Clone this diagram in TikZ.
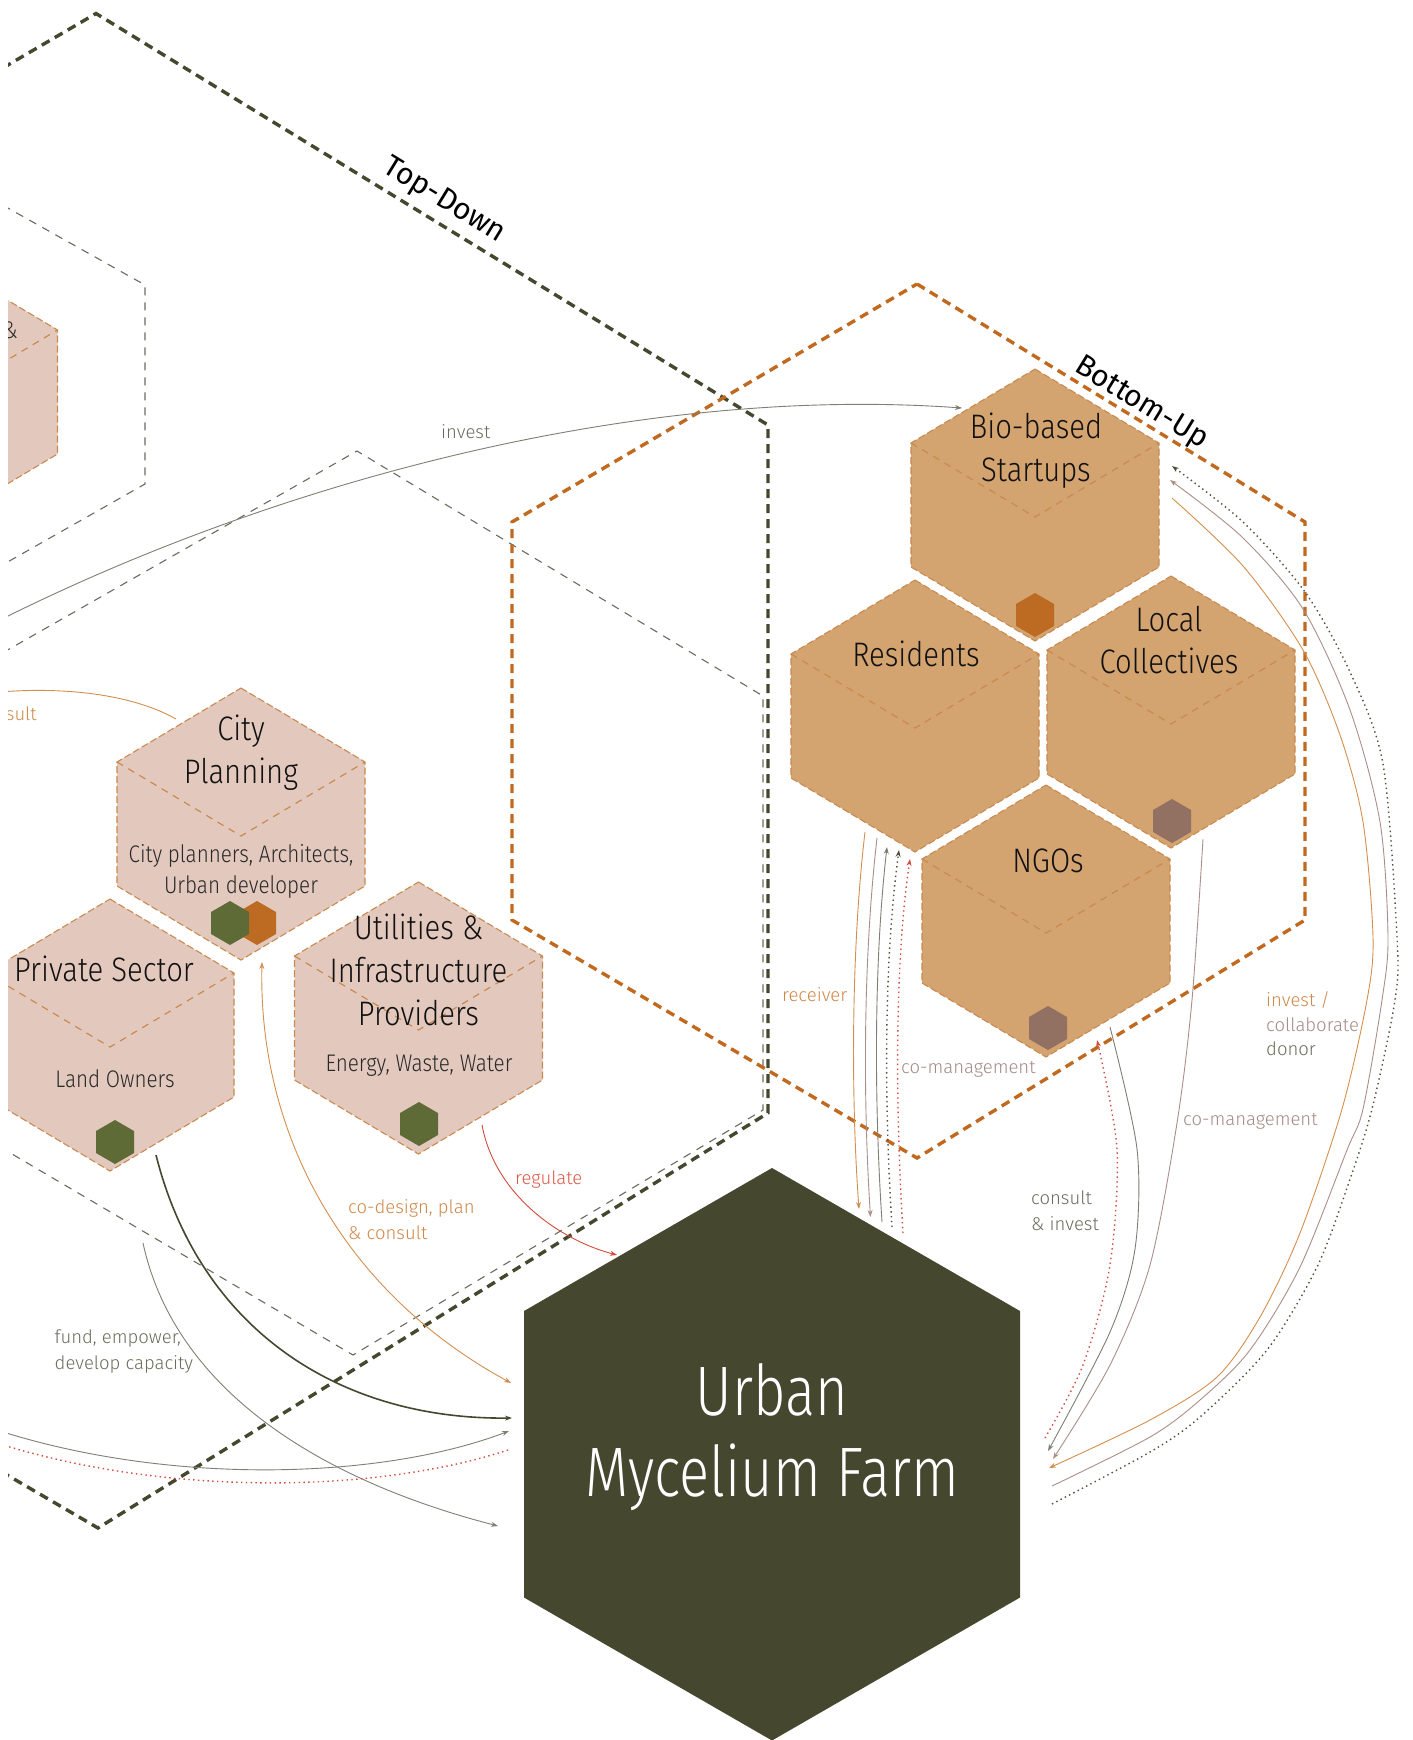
\documentclass[tikz,border=0pt]{standalone}
\usepackage{fontspec}
\setmainfont{Fira Sans Light}
\newfontfamily\sidef{Fira Sans}
\newfontfamily\condf{Fira Sans Light}[FakeStretch=0.86]
\newfontfamily\farmf{Fira Sans Light}[FakeStretch=0.80]
\usetikzlibrary{arrows.meta}

\definecolor{cOlive}{HTML}{45472F}
\definecolor{cOrg}{HTML}{C0691F}
\definecolor{cBadgeO}{HTML}{BD6B22}
\definecolor{cTan}{HTML}{D3A370}
\definecolor{cPink}{HTML}{E3C8BE}
\definecolor{cGreen}{HTML}{5F6B37}
\definecolor{cMauve}{HTML}{927062}
\definecolor{cBord}{HTML}{C98A4F}
\definecolor{cGreyD}{HTML}{6B6C5E}
\definecolor{lOrg}{HTML}{D38F4E}
\definecolor{lMauve}{HTML}{AA8F89}
\definecolor{lGrey}{HTML}{7F7F72}
\definecolor{lDot}{HTML}{4E503B}
\definecolor{lRed}{HTML}{D44B3E}
\definecolor{tOrg}{HTML}{D0884A}
\definecolor{tMauve}{HTML}{A38B85}
\definecolor{tGrey}{HTML}{6B6D5C}
\definecolor{tRed}{HTML}{DC5A48}
\definecolor{tBlack}{HTML}{111111}

\tikzset{
  bigdash/.style={line width=3.4pt, dash pattern=on 9pt off 6pt},
  greydash/.style={draw=cGreyD, line width=1.1pt, dash pattern=on 8pt off 7pt},
  hexborder/.style={draw=cBord, line width=1.1pt, dash pattern=on 7pt off 3pt},
  innerv/.style={draw=cBord, line width=1.2pt, dash pattern=on 7pt off 6pt},
  conn/.style={line width=0.9pt},
  dotl/.style={line width=1.4pt, dash pattern=on 1.4pt off 3.4pt},
  arr/.style={-{Stealth[length=7pt,width=5pt]}},
  twoarr/.style={{Stealth[length=7pt,width=5pt]}-{Stealth[length=7pt,width=5pt]}},
  title/.style={font=\condf\fontsize{34}{40}\selectfont, text=tBlack, inner sep=0pt, anchor=base},
  subt/.style={font=\condf\fontsize{24}{28}\selectfont, text=tBlack!90, inner sep=0pt, anchor=base},
  farm/.style={font=\farmf\fontsize{70}{80}\selectfont, text=white, inner sep=0pt, anchor=base},
  lab/.style={font=\fontsize{18.5}{22}\selectfont, inner sep=0pt, anchor=base west},
  sidelab/.style={font=\sidef\fontsize{30}{34}\selectfont, text=black, inner sep=0pt, rotate=-31.5},
}

\newcommand{\actorhex}[3]{%
  \filldraw[fill=#3, hexborder] (#1,#2) -- (#1+124,#2+74) -- (#1+124,#2+198) -- (#1,#2+272) -- (#1-124,#2+198) -- (#1-124,#2+74) -- cycle;
  \draw[innerv] (#1-124,#2+74) -- (#1,#2+148) -- (#1+124,#2+74);}
\newcommand{\badge}[3]{%
  \fill[#3] (#1,#2-22) -- (#1+19,#2-11) -- (#1+19,#2+11) -- (#1,#2+22) -- (#1-19,#2+11) -- (#1-19,#2-11) -- cycle;}

\begin{document}
\begin{tikzpicture}[x=1pt,y=-1pt]
\useasboundingbox (0,0) rectangle (1413,1740);
\fill[white] (0,0) rectangle (1413,1740);
\begin{scope}
\clip (8,0) rectangle (1413,1740);

% ---------- background frames ----------
\draw[greydash] (-10,198) -- (145,285) -- (145,484) -- (-10,572);
\draw[greydash] (-10,660) -- (357,451) -- (763,696) -- (763,1110) -- (353,1355) -- (-10,1141);
\draw[bigdash, draw=cOlive] (-10,75.5) -- (96,13.5) -- (768,425) -- (768,1113) -- (98,1528) -- (-10,1465);
\draw[bigdash, draw=cOrg] (917,284) -- (1305,522) -- (1305,920) -- (917,1158) -- (512,920) -- (512,522) -- cycle;

\node[sidelab] (td) at (444,201) {Top-Down};
\node[sidelab] (bu) at (1141,404) {Bottom-Up};

% ---------- connector end points ----------
\coordinate (inv-s) at (0,620);      \coordinate (inv-e) at (962,408);
\coordinate (cpl-s) at (176,719);    \coordinate (cpl-e) at (0,692);
\coordinate (cod-s) at (262,962);    \coordinate (cod-e) at (511,1383);
\coordinate (reg-s) at (482,1125);   \coordinate (reg-e) at (617,1255);
\coordinate (ps-s) at (156,1155);    \coordinate (ps-e) at (512,1418);
\coordinate (fnd-s) at (143,1243);   \coordinate (fnd-e) at (498,1526);
\coordinate (u1-s) at (0,1431);      \coordinate (u1-e) at (509,1431);
\coordinate (u2-s) at (0,1444);      \coordinate (u2-e) at (511,1449);
\coordinate (a-s) at (865,832);      \coordinate (a-e) at (859,1209);
\coordinate (b-s) at (877,838);      \coordinate (b-e) at (870.5,1217);
\coordinate (c-s) at (882,1222);     \coordinate (c-e) at (887,847);
\coordinate (d-s) at (892,1227);     \coordinate (d-e) at (899,850);
\coordinate (e-s) at (903,1233);     \coordinate (e-e) at (910,859);
\coordinate (f-s) at (1045,1438);    \coordinate (f-e) at (1097,1040);
\coordinate (g-s) at (1110,1027);    \coordinate (g-e) at (1048,1451);
\coordinate (h-s) at (1203,839);     \coordinate (h-e) at (1053,1459);
\coordinate (i-s) at (1172,498);     \coordinate (i-e) at (1049,1468);
\coordinate (j-s) at (1052,1486);    \coordinate (j-e) at (1170,480);
\coordinate (k-s) at (1052,1504);    \coordinate (k-e) at (1172,466);

% ---------- connectors ----------
\draw[conn, lGrey, arr] (inv-s) .. controls (280,480) and (640,385) .. (inv-e);
\draw[conn, lOrg] (cpl-s) .. controls (130,693) and (60,687) .. (cpl-e);
\draw[conn, lOrg, twoarr] (cod-s) .. controls (258,1130) and (340,1290) .. (cod-e);
\draw[conn, lRed, arr] (reg-s) .. controls (495,1195) and (560,1240) .. (reg-e);
\draw[line width=1.6pt, cOlive, arr] (ps-s) .. controls (200,1330) and (340,1420) .. (ps-e);
\draw[conn, lGrey, arr] (fnd-s) .. controls (175,1390) and (320,1480) .. (fnd-e);
\draw[conn, lGrey, arr] (u1-s) .. controls (170,1485) and (380,1480) .. (u1-e);
\draw[dotl, lRed] (u2-s) .. controls (170,1497) and (380,1493) .. (u2-e);

\draw[conn, lOrg, arr] (a-s) .. controls (851,950) and (851,1100) .. (a-e);
\draw[conn, lMauve, arr] (b-s) .. controls (863,960) and (863,1100) .. (b-e);
\draw[conn, lGrey, arr] (c-s) .. controls (874,1100) and (874,960) .. (c-e);
\draw[dotl, lDot, arr] (d-s) .. controls (884,1100) and (884,960) .. (d-e);
\draw[dotl, lRed, arr] (e-s) .. controls (895,1100) and (895,960) .. (e-e);

\draw[dotl, lRed, arr] plot[smooth] coordinates {(f-s) (1083,1365) (1110,1265) (1117,1149) (f-e)};
\draw[conn, lGrey, arr] plot[smooth] coordinates {(g-s) (1137,1149) (1135,1249) (1110,1332) (g-e)};
\draw[conn, lMauve, arr] plot[smooth] coordinates {(h-s) (1192,1000) (1177,1123) (1150,1265) (1110,1365) (h-e)};
\draw[conn, lOrg, arr] plot[smooth] coordinates {(i-s) (1243,566) (1303,650) (1340,735) (1363,822) (1373,937) (1367,1000) (1342,1109) (1300,1233) (1260,1317) (1217,1377) (1150,1420) (i-e)};
\draw[conn, lMauve, arr] plot[smooth] coordinates {(j-s) (1150,1437) (1200,1400) (1250,1350) (1300,1267) (1347,1150) (1363,1109) (1382,1000) (1388,937) (1380,822) (1350,710) (1303,609) (1242,537) (j-e)};
\draw[dotl, lDot, arr] plot[smooth] coordinates {(k-s) (1150,1452) (1200,1417) (1267,1350) (1317,1267) (1348,1185) (1372,1109) (1395,1000) (1397,937) (1383,764) (1350,672) (1305,592) (1243,522) (k-e)};

% ---------- actor hexagons ----------
\actorhex{-66.5}{256}{cPink}
\actorhex{241}{688}{cPink}
\actorhex{110}{899}{cPink}
\actorhex{418.5}{882}{cPink}
\actorhex{1035}{369}{cTan}
\actorhex{915}{580}{cTan}
\actorhex{1171}{576}{cTan}
\actorhex{1046}{785}{cTan}

\badge{1035}{615}{cBadgeO}
\badge{1172}{821}{cMauve}
\badge{1048}{1028}{cMauve}
\badge{257}{923}{cBadgeO}
\badge{230}{923}{cGreen}
\badge{115}{1142}{cGreen}
\badge{419}{1124}{cGreen}

% ---------- central farm ----------
\fill[cOlive] (772,1168) -- (1020,1311) -- (1020,1597.5) -- (772,1740.5) -- (524,1597.5) -- (524,1311) -- cycle;
\node[farm] (farm1) at (772,1415) {Urban};
\node[farm] (farm2) at (772,1496) {Mycelium Farm};

% ---------- node texts ----------
\node[subt, anchor=base east] (frag) at (18,338) {\&};
\node[title] (bio1) at (1036,438) {Bio-based};
\node[title] (bio2) at (1036,481.5) {Startups};
\node[title] (res) at (916,666) {Residents};
\node[title] (loc1) at (1169,631) {Local};
\node[title] (loc2) at (1169,673) {Collectives};
\node[title] (ngo) at (1048,872) {NGOs};
\node[title] (cp1) at (241,740) {City};
\node[title] (cp2) at (241,783) {Planning};
\node[subt] (cp3) at (241,862) {City planners, Architects,};
\node[subt] (cp4) at (241,893) {Urban developer};
\node[title] (ps1) at (104,981) {Private Sector};
\node[subt] (ps2) at (115,1087) {Land Owners};
\node[title] (ut1) at (418.5,939) {Utilities \&};
\node[title] (ut2) at (418.5,982) {Infrastructure};
\node[title] (ut3) at (418.5,1025) {Providers};
\node[subt] (ut4) at (419,1071.5) {Energy, Waste, Water};

% ---------- connector labels ----------
\node[lab, text=tGrey] (l-invest) at (441,438) {invest};
\node[lab, text=tOrg, anchor=base east] (l-sult) at (37,720) {sult};
\node[lab, text=tOrg] (l-rec) at (782,1001) {receiver};
\node[lab, text=tMauve] (l-com1) at (901,1073) {co-management};
\node[lab, text=tOrg] (l-inv) at (1266,1006) {invest /};
\node[lab, text=tMauve] (l-col) at (1266,1031) {collaborate};
\node[lab, text=tGrey] (l-don) at (1266,1055) {donor};
\node[lab, text=tMauve] (l-com2) at (1183,1125) {co-management};
\node[lab, text=tGrey] (l-cons1) at (1031,1204) {consult};
\node[lab, text=tGrey] (l-cons2) at (1031,1230) {\& invest};
\node[lab, text=tOrg] (l-cod1) at (348,1213) {co-design, plan};
\node[lab, text=tOrg] (l-cod2) at (348,1239) {\& consult};
\node[lab, text=tRed] (l-reg) at (515,1184) {regulate};
\node[lab, text=tGrey] (l-fund1) at (54.5,1343) {fund, empower,};
\node[lab, text=tGrey] (l-fund2) at (54.5,1369) {develop capacity};
\end{scope}
\end{tikzpicture}
\end{document}
